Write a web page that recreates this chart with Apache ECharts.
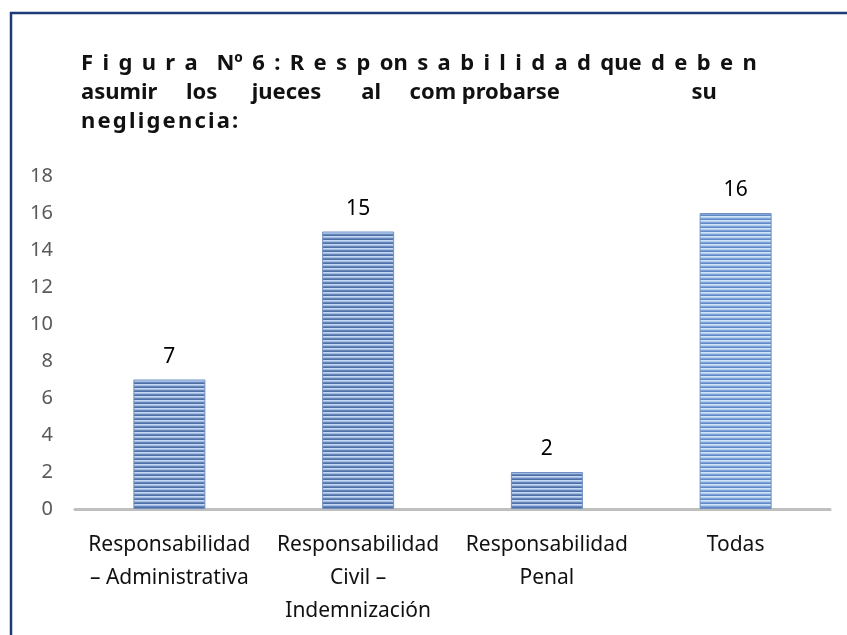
<!DOCTYPE html>
<html>
<head>
<meta charset="utf-8">
<script src="https://cdn.jsdelivr.net/npm/echarts@6/dist/echarts.min.js"></script>
<style>
  html, body { margin: 0; padding: 0; background: #fff; }
  #chart { width: 847px; height: 635px; }
</style>
</head>
<body>
<div id="chart"></div>
<script>
// datos del gráfico
var categories = [
  'Responsabilidad\n– Administrativa',
  'Responsabilidad\nCivil –\nIndemnización',
  'Responsabilidad\nPenal',
  'Todas'
]
var values = [7, 15, 2, 16]
var yMin = 0
var yMax = 18
var yStep = 2

var titleLines = [
  'F i g u r a  Nº 6 : R e s p on s a b i l i d a d que d e b e n',
  'asumir los jueces al com probarse su',
  'negligencia:'
]

// espaciado del título (imitando el texto justificado)
const sp = (n) => ' '.repeat(n)
let line1 = titleLines[0].split(' ').join(' \u2009')
let w2 = titleLines[1].split(' ')
let line2 = w2[0] + sp(5) + w2[1] + sp(6) + w2[2] + sp(7) + w2[3] + sp(5) + w2[4] + ' ' + w2[5] + sp(23) + w2[6]
let line3 = titleLines[2].split('').join('\u200A')

// relleno rayado de las barras
const stripes = (rows) => {
  let c = document.createElement('canvas')
  c.width = 4
  c.height = rows.length
  let ctx = c.getContext('2d')
  for (let i = 0; i < rows.length; i++) {
    ctx.fillStyle = rows[i]
    ctx.fillRect(0, i, 4, 1)
  }
  return {image: c, repeat: 'repeat'}
}
let patDark = stripes(['#c8daf3', '#9fbbe3', '#6688bd', '#4f6fa3'])
let patLight = stripes(['#d3e3f8', '#b0cdf0', '#7ea4d9', '#6389c2'])

let data = values.map((v, i) => ({
  value: v,
  itemStyle: {color: i === 3 ? patLight : patDark}
}))

let chart = echarts.init(document.getElementById('chart'))
let option = {
  animation: false,
  backgroundColor: '#fff',
  title: {
    text: [line1, line2, line3].join('\n'),
    left: 76,
    top: 44,
    textStyle: {
      fontFamily: 'Noto Sans',
      fontWeight: 'bold',
      fontSize: 22,
      lineHeight: 29,
      color: '#111'
    }
  },
  graphic: [
    {type: 'line', shape: {x1: 10, y1: 13, x2: 847, y2: 13}, style: {stroke: '#1f3a78', lineWidth: 2.5}},
    {type: 'line', shape: {x1: 11, y1: 12, x2: 11, y2: 635}, style: {stroke: '#1f3a78', lineWidth: 2.5}}
  ],
  grid: {left: 75, right: 17, top: 176, bottom: 126},
  xAxis: {
    type: 'category',
    data: categories,
    axisLine: {lineStyle: {color: '#bfbfbf', width: 3}},
    axisTick: {show: false},
    axisLabel: {
      interval: 0,
      margin: 20,
      fontFamily: 'Noto Sans',
      fontSize: 21,
      lineHeight: 33,
      color: '#111'
    }
  },
  yAxis: {
    type: 'value',
    min: yMin,
    max: yMax,
    interval: yStep,
    axisLine: {show: false},
    axisTick: {show: false},
    splitLine: {show: false},
    axisLabel: {
      margin: 22,
      fontFamily: 'Noto Sans',
      fontSize: 20,
      color: '#595959'
    }
  },
  series: [{
    type: 'bar',
    data: data,
    barWidth: 72,
    itemStyle: {borderColor: '#7090c2', borderWidth: 1},
    label: {
      show: true,
      position: 'top',
      distance: 12,
      fontFamily: 'Noto Sans',
      fontSize: 21,
      color: '#000'
    }
  }]
}
chart.setOption(option)
</script>
</body>
</html>
